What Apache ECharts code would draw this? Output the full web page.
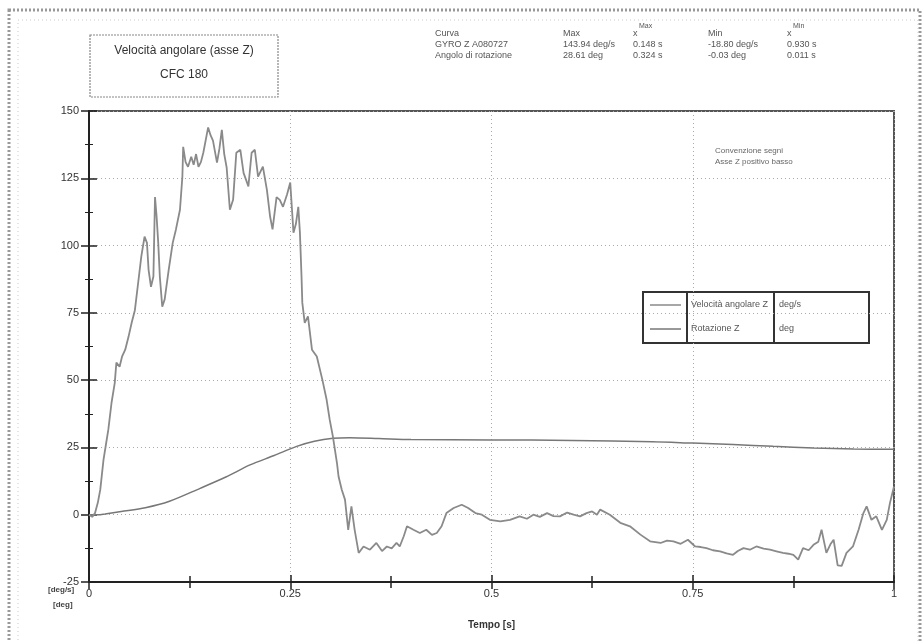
<!DOCTYPE html>
<html>
<head>
<meta charset="utf-8">
<script src="https://cdn.jsdelivr.net/npm/echarts@6/dist/echarts.min.js"></script>
<style>
  html, body { margin: 0; padding: 0; background: #fff; }
  #chart { width: 924px; height: 641px; }
</style>
</head>
<body>
<div id="chart"></div>
<script>
// velocita angolare Z [deg/s]
const velT = [
  0, 0.004, 0.0075, 0.011, 0.014, 0.018, 0.021, 0.024, 0.028, 0.032, 0.034, 0.038, 0.041,
  0.045, 0.049, 0.053, 0.057, 0.061, 0.065, 0.069, 0.072, 0.074, 0.077, 0.080, 0.082,
  0.084, 0.086, 0.088, 0.091, 0.094, 0.099, 0.104, 0.108, 0.113, 0.116, 0.117, 0.120,
  0.123, 0.127, 0.130, 0.133, 0.136, 0.139, 0.142, 0.148, 0.151, 0.154, 0.159, 0.162,
  0.165, 0.168, 0.171, 0.175, 0.179, 0.183, 0.188, 0.192, 0.198, 0.202, 0.206, 0.210,
  0.216, 0.221, 0.225, 0.228, 0.233, 0.237, 0.241, 0.246, 0.250, 0.254, 0.257, 0.260,
  0.262, 0.264, 0.265, 0.268, 0.272, 0.277, 0.283, 0.290, 0.295, 0.299, 0.303, 0.308,
  0.310, 0.314, 0.318, 0.322, 0.326, 0.330, 0.335, 0.341, 0.349, 0.357, 0.364, 0.370,
  0.376, 0.382, 0.386, 0.391, 0.395, 0.403, 0.411, 0.419, 0.426, 0.432, 0.438, 0.444,
  0.453, 0.463, 0.471, 0.480, 0.488, 0.498, 0.511, 0.523, 0.535, 0.544, 0.552, 0.560,
  0.569, 0.577, 0.585, 0.594, 0.602, 0.610, 0.618, 0.625, 0.631, 0.635, 0.647, 0.660,
  0.672, 0.685, 0.697, 0.710, 0.718, 0.726, 0.735, 0.744, 0.753, 0.760, 0.767, 0.775,
  0.784, 0.792, 0.800, 0.806, 0.813, 0.821, 0.829, 0.838, 0.846, 0.854, 0.862, 0.869,
  0.875, 0.881, 0.887, 0.894, 0.900, 0.906, 0.910, 0.916, 0.921, 0.925, 0.930, 0.935,
  0.941, 0.949, 0.956, 0.962, 0.966, 0.972, 0.978, 0.985, 0.991, 0.995, 1.0
];
const velV = [
  0, -0.8, 0.6, 4.5, 9.3, 20.4, 26, 31.6, 41.6, 49, 56.5, 55, 58.7,
  61.3, 66, 71.3, 76, 86, 96, 103.3, 101, 91, 84.7, 88.5, 118,
  110.7, 101, 88.4, 77.3, 80, 91, 101, 106, 113.3, 125.6, 136.7, 131,
  129.3, 133, 130, 134, 129.3, 131, 134.5, 143.9, 141, 139, 130.8, 136,
  143, 134, 129, 113.3, 117, 134.5, 135.6, 127, 122, 134.5, 135.6, 125.6,
  129.3, 120.7, 110.7, 106, 118, 117, 114.4, 119, 123.4, 104.8, 108, 114.4,
  104.8, 88.5, 78.7, 71.3, 73.7, 61.3, 58.8, 50, 43, 35.3, 29, 19.3,
  14.2, 9.3, 5.6, -5.6, 3.1, -5.6, -14.2, -11.8, -13, -10.5, -13.5, -11.8,
  -12.5, -10.5, -11.8, -8, -4.3, -5.6, -6.8, -5.6, -7.5, -6.8, -4.3, 0.6,
  2.5, 3.7, 2.5, 0.6, 0, -1.9, -2.5, -1.9, -0.6, -1.5, 0, -0.8,
  0.6, -0.5, -0.6, 0.8, 0, -0.6, 0.6, 1.2, 0, 1.9, 0, -3,
  -4.3, -7.4, -9.9, -10.5, -9.6, -9.9, -10.8, -9.3, -11.8, -12, -12.4, -13.2,
  -13.6, -14.4, -14.9, -13.5, -12.4, -13, -11.8, -12.6, -13, -13.6, -14.2, -14.5,
  -14.9, -16.7, -12.4, -13.2, -11.2, -10, -5.6, -14.2, -11, -9.3, -18.8, -19,
  -14.2, -11.8, -5.6, 0.6, 3.1, -1.9, -0.6, -5.6, -1.9, 4.4, 10.5
];

// rotazione Z [deg]
const rotT = [
  0, 0.011, 0.02, 0.04, 0.07, 0.1, 0.138, 0.17, 0.2, 0.23, 0.258, 0.28, 0.303, 0.324,
  0.36, 0.4, 0.5, 0.6, 0.7, 0.75, 0.8, 0.85, 0.9, 0.95, 1.0
];
const rotV = [
  0, -0.03, 0.3, 1.2, 2.6, 5, 9.8, 14, 18.5, 22, 25.4, 27.3, 28.4, 28.61,
  28.3, 27.9, 27.8, 27.6, 27.1, 26.6, 26.1, 25.4, 24.8, 24.4, 24.3
];

const xTicks = [0, 0.25, 0.5, 0.75, 1];
const yTicks = [-25, 0, 25, 50, 75, 100, 125, 150];

const seriesNames = ["Velocità angolare Z", "Rotazione Z"];
const seriesUnits = ["deg/s", "deg"];

const statHeader = ["Curva", "Max", "x", "Min", "x"];
const statRows = [
  ["GYRO Z A080727", "143.94 deg/s", "0.148 s", "-18.80 deg/s", "0.930 s"],
  ["Angolo di rotazione", "28.61 deg", "0.324 s", "-0.03 deg", "0.011 s"]
];

const chart = echarts.init(document.getElementById("chart"));

const font = "Liberation Sans, Arial, sans-serif";
const statCols = [435, 563, 633, 708, 787];

const statText = [];
statHeader.forEach((h, i) => {
  statText.push({
    type: "text",
    left: statCols[i],
    top: 29,
    style: { text: h, fontSize: 9, fill: "#555", fontFamily: font }
  });
  // apice Max / Min sopra la x
  if (i === 2 || i === 4) {
    statText.push({
      type: "text",
      left: statCols[i] + 6,
      top: 23,
      style: { text: i === 2 ? "Max" : "Min", fontSize: 7, fill: "#555", fontFamily: font }
    });
  }
});
statRows.forEach((row, r) => {
  row.forEach((c, i) => {
    statText.push({
      type: "text",
      left: statCols[i],
      top: 40 + r * 11,
      style: { text: c, fontSize: 9, fill: "#555", fontFamily: font }
    });
  });
});

const legendBox = [
  {
    type: "rect",
    shape: { x: 643, y: 292, width: 226, height: 51 },
    style: { fill: "#fff", stroke: "#333", lineWidth: 2 }
  },
  { type: "line", shape: { x1: 687, y1: 292, x2: 687, y2: 343 }, style: { stroke: "#333", lineWidth: 2 } },
  { type: "line", shape: { x1: 774, y1: 292, x2: 774, y2: 343 }, style: { stroke: "#333", lineWidth: 2 } },
  { type: "line", shape: { x1: 650, y1: 305, x2: 681, y2: 305 }, style: { stroke: "#8a8a8a", lineWidth: 1.5 } },
  { type: "line", shape: { x1: 650, y1: 329, x2: 681, y2: 329 }, style: { stroke: "#777", lineWidth: 1.5 } }
];
seriesNames.forEach((n, i) => {
  legendBox.push({
    type: "text", left: 691, top: 300 + i * 24,
    style: { text: n, fontSize: 9, fill: "#555", fontFamily: font }
  });
  legendBox.push({
    type: "text", left: 779, top: 300 + i * 24,
    style: { text: seriesUnits[i], fontSize: 9, fill: "#555", fontFamily: font }
  });
});

const tickStyle = { color: "#222", width: 1.5 };

const option = {
  backgroundColor: "#fff",
  animation: false,
  grid: {
    left: 89, right: 30, top: 111, bottom: 59,
    show: true, borderColor: "#555", borderWidth: 2
  },
  xAxis: [
    {
      type: "value",
      min: xTicks[0],
      max: xTicks[xTicks.length - 1],
      interval: 0.25,
      name: "Tempo [s]",
      nameLocation: "middle",
      nameGap: 38,
      nameTextStyle: { fontSize: 10, fontWeight: "bold", color: "#333", fontFamily: font },
      axisLine: { onZero: false, lineStyle: { color: "#222", width: 2 } },
      axisTick: { length: 7, lineStyle: tickStyle },
      minorTick: { show: true, splitNumber: 2, length: 6, lineStyle: tickStyle },
      axisLabel: { color: "#333", fontSize: 11, margin: 6, fontFamily: font },
      splitLine: { show: true, lineStyle: { color: "#aaa", type: [1, 3] } }
    },
    {
      type: "value",
      min: 0, max: 1, interval: 0.25,
      position: "bottom",
      axisLine: { show: false, onZero: false },
      axisTick: { inside: true, length: 7, lineStyle: tickStyle },
      minorTick: { show: true, splitNumber: 2, length: 6, lineStyle: tickStyle },
      axisLabel: { show: false },
      splitLine: { show: false }
    }
  ],
  yAxis: [
    {
      type: "value",
      min: yTicks[0],
      max: yTicks[yTicks.length - 1],
      interval: 25,
      axisLine: { show: true, onZero: false, lineStyle: { color: "#222", width: 2 } },
      axisTick: { show: true, length: 8, lineStyle: tickStyle },
      minorTick: { show: true, splitNumber: 2, length: 4, lineStyle: { color: "#222", width: 1 } },
      axisLabel: { color: "#333", fontSize: 11, margin: 10, fontFamily: font },
      splitLine: { show: true, lineStyle: { color: "#aaa", type: [1, 3] } }
    },
    {
      type: "value",
      min: -25, max: 150, interval: 25,
      position: "left",
      axisLine: { show: false, onZero: false },
      axisTick: { show: true, inside: true, length: 8, lineStyle: tickStyle },
      minorTick: { show: true, splitNumber: 2, length: 4, lineStyle: { color: "#222", width: 1 } },
      axisLabel: { show: false },
      splitLine: { show: false }
    }
  ],
  series: [
    {
      name: seriesNames[0],
      type: "line",
      showSymbol: false,
      data: velT.map((t, i) => [t, velV[i]]),
      lineStyle: { color: "#8a8a8a", width: 1.8 },
      z: 3
    },
    {
      name: seriesNames[1],
      type: "line",
      showSymbol: false,
      smooth: 0.3,
      data: rotT.map((t, i) => [t, rotV[i]]),
      lineStyle: { color: "#777", width: 1.5 },
      z: 2
    }
  ],
  graphic: [
    {
      type: "rect",
      shape: { x: 9, y: 10, width: 911, height: 660 },
      style: { fill: null, stroke: "#999", lineWidth: 3, lineDash: [2, 2] }
    },
    {
      type: "rect",
      shape: { x: 18, y: 20, width: 900, height: 650 },
      style: { fill: null, stroke: "#ccc", lineWidth: 1, lineDash: [1, 3] }
    },
    {
      type: "rect",
      shape: { x: 90, y: 35, width: 188, height: 62 },
      style: { fill: "#fff", stroke: "#888", lineWidth: 1.2, lineDash: [2, 1] }
    },
    {
      type: "text", top: 45,
      style: { text: "Velocità angolare (asse Z)", fontSize: 12, fill: "#333", fontFamily: font, x: 184, textAlign: "center" }
    },
    {
      type: "text", top: 69,
      style: { text: "CFC 180", fontSize: 12, fill: "#333", fontFamily: font, x: 184, textAlign: "center" }
    },
    {
      type: "text", left: 715, top: 147,
      style: { text: "Convenzione segni", fontSize: 8, fill: "#666", fontFamily: font }
    },
    {
      type: "text", left: 715, top: 158,
      style: { text: "Asse Z positivo basso", fontSize: 8, fill: "#666", fontFamily: font }
    },
    {
      type: "text", left: 48, top: 586,
      style: { text: "[deg/s]", fontSize: 8, fontWeight: "bold", fill: "#444", fontFamily: font }
    },
    {
      type: "text", left: 53, top: 601,
      style: { text: "[deg]", fontSize: 8, fontWeight: "bold", fill: "#444", fontFamily: font }
    }
  ].concat(statText, legendBox)
};

chart.setOption(option);
</script>
</body>
</html>
